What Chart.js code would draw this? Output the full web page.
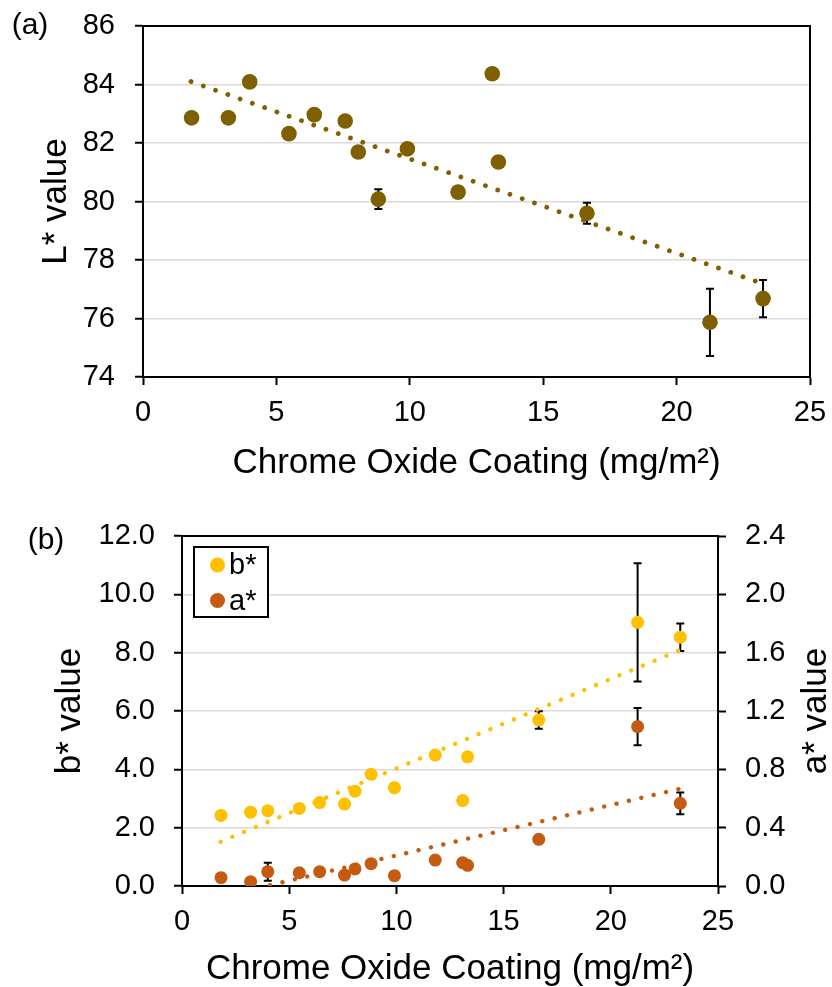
<!DOCTYPE html>
<html>
<head>
<meta charset="utf-8">
<title>Chrome oxide coating colour values</title>
<script src="https://cdn.jsdelivr.net/npm/chart.js@4.4.1/dist/chart.umd.min.js"></script>
<style>
  html, body { margin: 0; padding: 0; background: #fff; }
  canvas { display: block; }
</style>
</head>
<body>
<canvas id="chartL" width="832" height="490"></canvas>
<canvas id="chartAB" width="832" height="497"></canvas>
<script>
// coating weight of each sample (mg/m2)
const coating = [1.82, 3.2, 4.0, 5.47, 6.42, 7.58, 8.07, 8.82, 9.91, 11.81, 13.09, 13.32, 16.64, 21.25, 23.24];

// L* (panel a)
const lValues = [82.86, 82.86, 84.09, 82.32, 82.97, 82.75, 81.69, 80.08, 81.80, 80.32, 84.37, 81.35, 79.60, 75.87, 76.68];
const lErr = [0, 0, 0, 0, 0, 0, 0, 0.34, 0, 0, 0, 0, 0.36, 1.15, 0.64];
const lTrend = [[1.8, 84.1], [23.2, 77.2]];

// b* and a* (panel b)
const bValues = [2.42, 2.53, 2.58, 2.66, 2.86, 2.81, 3.25, 3.83, 3.37, 4.49, 2.93, 4.43, 5.69, 9.04, 8.53];
const bErr = [0, 0, 0, 0, 0, 0, 0, 0, 0, 0, 0, 0, 0.3, 2.03, 0.47];
const bTrend = [[1.8, 1.52], [23.2, 8.08]];

const aValues = [0.057, 0.03, 0.098, 0.091, 0.098, 0.075, 0.117, 0.153, 0.071, 0.178, 0.16, 0.142, 0.32, 1.093, 0.567];
const aErr = [0, 0, 0.062, 0, 0, 0, 0, 0, 0, 0, 0, 0, 0, 0.128, 0.075];
const aTrend = [[1.8, -0.074], [23.2, 0.666]];

const xTitle = 'Chrome Oxide Coating (mg/m\u00B2)';

const OLIVE = '#7F6000';
const GOLD = '#FFC000';
const RUST = '#C55A11';
const GRID = '#D9D9D9';

Chart.defaults.font.family = 'Arial, "Liberation Sans", sans-serif';
Chart.defaults.color = '#000';

const toPoints = (xs, ys) => xs.map((x, i) => ({ x: x, y: ys[i] }));
const toLine = pairs => pairs.map(p => ({ x: p[0], y: p[1] }));

// vertical error bars with small caps, drawn under the markers
const errorBarPlugin = {
  id: 'errorBars',
  beforeDatasetsDraw(chart) {
    const ctx = chart.ctx;
    chart.data.datasets.forEach((ds, i) => {
      if (!ds.errorBars) return;
      const meta = chart.getDatasetMeta(i);
      const yScale = chart.scales[meta.yAxisID];
      ctx.save();
      ctx.strokeStyle = '#000';
      ctx.lineWidth = 2;
      meta.data.forEach((pt, j) => {
        const err = ds.errorBars[j];
        if (!err) return;
        const v = ds.data[j].y;
        const yTop = yScale.getPixelForValue(v + err);
        const yBot = yScale.getPixelForValue(v - err);
        ctx.beginPath();
        ctx.moveTo(pt.x, yTop);
        ctx.lineTo(pt.x, yBot);
        ctx.moveTo(pt.x - 4, yTop);
        ctx.lineTo(pt.x + 4, yTop);
        ctx.moveTo(pt.x - 4, yBot);
        ctx.lineTo(pt.x + 4, yBot);
        ctx.stroke();
      });
      ctx.restore();
    });
  }
};

// closes the plot box along the top (and the right side when asked)
const framePlugin = {
  id: 'frame',
  afterDraw(chart, args, opts) {
    const { ctx, chartArea: a } = chart;
    ctx.save();
    ctx.strokeStyle = '#000';
    ctx.lineWidth = 2;
    ctx.beginPath();
    ctx.moveTo(a.left - 1, a.top);
    ctx.lineTo(a.right, a.top);
    if (opts.right) ctx.lineTo(a.right, a.bottom);
    ctx.stroke();
    ctx.restore();
  }
};

// "(a)" / "(b)" panel tags and any extra rotated axis title
const labelPlugin = {
  id: 'panelText',
  afterDraw(chart, args, opts) {
    const ctx = chart.ctx;
    ctx.save();
    ctx.fillStyle = '#000';
    ctx.textAlign = 'center';
    ctx.textBaseline = 'middle';
    ctx.font = '30px Arial, "Liberation Sans", sans-serif';
    ctx.fillText(opts.tag, opts.tagX, opts.tagY);
    if (opts.sideTitle) {
      const a = chart.chartArea;
      ctx.font = '35px Arial, "Liberation Sans", sans-serif';
      ctx.translate(opts.sideX, (a.top + a.bottom) / 2);
      ctx.rotate(-Math.PI / 2);
      ctx.fillText(opts.sideTitle, 0, 0);
    }
    ctx.restore();
  }
};

// boxed legend in the top-left corner of the plot
const boxLegendPlugin = {
  id: 'boxLegend',
  afterDraw(chart, args, opts) {
    if (!opts.items) return;
    const { ctx, chartArea: a } = chart;
    const left = a.left + 12, top = a.top + 11;
    ctx.save();
    ctx.fillStyle = '#fff';
    ctx.fillRect(left, top, 74, 70);
    ctx.strokeStyle = '#000';
    ctx.lineWidth = 2;
    ctx.strokeRect(left, top, 74, 70);
    ctx.font = '29px Arial, "Liberation Sans", sans-serif';
    ctx.textBaseline = 'middle';
    ctx.textAlign = 'left';
    opts.items.forEach((idx, row) => {
      const ds = chart.data.datasets[idx];
      const cy = top + 18 + row * 35.5;
      ctx.fillStyle = ds.backgroundColor;
      ctx.beginPath();
      ctx.arc(left + 23.5, cy, 7.5, 0, Math.PI * 2);
      ctx.fill();
      ctx.fillStyle = '#000';
      ctx.fillText(ds.label, left + 35, cy + 1);
    });
    ctx.restore();
  }
};

const tickFont = { size: 29 };
const titleFont = { size: 35, lineHeight: 1 };

// tick padding would otherwise be added to the overflow Chart.js reserves
// around the plot, so the side paddings are reset after each fit
function xAxis(height, titlePad) {
  return {
    type: 'linear',
    min: 0,
    max: 25,
    ticks: { stepSize: 5, font: tickFont, padding: 11 },
    grid: { drawOnChartArea: false, tickLength: 8, tickColor: '#000', tickWidth: 2 },
    border: { color: '#000', width: 2 },
    title: { display: true, text: xTitle, font: titleFont, padding: { top: 0, bottom: titlePad } },
    afterFit: s => {
      s.height = height;
      s.paddingLeft = 10;
      s.paddingRight = 10;
    }
  };
}

function fixWidth(width) {
  return s => {
    s.width = width;
    s.paddingTop = 10;
    s.paddingBottom = 10;
  };
}

// panel (a): L*
new Chart(document.getElementById('chartL'), {
  type: 'scatter',
  data: {
    datasets: [
      {
        label: 'L*',
        data: toPoints(coating, lValues),
        errorBars: lErr,
        backgroundColor: OLIVE,
        borderWidth: 0,
        pointRadius: 7.8,
        pointHoverRadius: 7.8
      },
      {
        label: 'L* trend',
        data: toLine(lTrend),
        showLine: true,
        pointRadius: 0,
        borderColor: OLIVE,
        borderWidth: 4.8,
        borderCapStyle: 'round',
        borderDash: [0.01, 13]
      }
    ]
  },
  options: {
    responsive: false,
    animation: false,
    layout: { autoPadding: false, padding: { top: 26, right: 22, bottom: 0, left: 0 } },
    plugins: {
      legend: { display: false },
      tooltip: { enabled: false },
      frame: { right: true },
      panelText: { tag: '(a)', tagX: 30, tagY: 26 },
      boxLegend: {}
    },
    scales: {
      x: xAxis(113, 9),
      y: {
        type: 'linear',
        min: 74,
        max: 86,
        ticks: { stepSize: 2, font: tickFont, padding: 20 },
        grid: { color: GRID, lineWidth: 1.5, tickLength: 8, tickColor: '#000', tickWidth: 2 },
        border: { color: '#000', width: 2 },
        title: { display: true, text: 'L* value', font: titleFont, padding: { top: 39, bottom: 0 } },
        afterFit: fixWidth(143)
      }
    }
  },
  plugins: [errorBarPlugin, framePlugin, labelPlugin, boxLegendPlugin]
});

// panel (b): b* on the left axis, a* on the right axis
new Chart(document.getElementById('chartAB'), {
  type: 'scatter',
  data: {
    datasets: [
      {
        label: 'b*',
        data: toPoints(coating, bValues),
        errorBars: bErr,
        yAxisID: 'y',
        backgroundColor: GOLD,
        borderWidth: 0,
        pointRadius: 6.5,
        pointHoverRadius: 6.5
      },
      {
        label: 'a*',
        data: toPoints(coating, aValues),
        errorBars: aErr,
        yAxisID: 'y1',
        backgroundColor: RUST,
        borderWidth: 0,
        pointRadius: 6.5,
        pointHoverRadius: 6.5
      },
      {
        label: 'b* trend',
        data: toLine(bTrend),
        yAxisID: 'y',
        showLine: true,
        pointRadius: 0,
        borderColor: GOLD,
        borderWidth: 4.4,
        borderCapStyle: 'round',
        borderDash: [0.01, 12.7]
      },
      {
        label: 'a* trend',
        data: toLine(aTrend),
        yAxisID: 'y1',
        showLine: true,
        pointRadius: 0,
        borderColor: RUST,
        borderWidth: 4.4,
        borderCapStyle: 'round',
        borderDash: [0.01, 12.7]
      }
    ]
  },
  options: {
    responsive: false,
    animation: false,
    layout: { autoPadding: false, padding: { top: 46, right: 0, bottom: 0, left: 0 } },
    plugins: {
      legend: { display: false },
      tooltip: { enabled: false },
      frame: { right: false },
      panelText: { tag: '(b)', tagX: 46, tagY: 51, sideTitle: 'a* value', sideX: 816 },
      boxLegend: { items: [0, 1] }
    },
    scales: {
      x: xAxis(101, 0),
      y: {
        type: 'linear',
        position: 'left',
        min: 0,
        max: 12,
        ticks: { stepSize: 2, font: tickFont, padding: 19, callback: v => v.toFixed(1) },
        grid: { color: GRID, lineWidth: 1.5, tickLength: 8, tickColor: '#000', tickWidth: 2 },
        border: { color: '#000', width: 2 },
        title: { display: true, text: 'b* value', font: titleFont, padding: { top: 52.5, bottom: 0 } },
        afterFit: fixWidth(182)
      },
      y1: {
        type: 'linear',
        position: 'right',
        min: 0,
        max: 2.4,
        ticks: { stepSize: 0.4, font: tickFont, padding: 19, callback: v => v.toFixed(1) },
        grid: { drawOnChartArea: false, tickLength: 8, tickColor: '#000', tickWidth: 2 },
        border: { color: '#000', width: 2 },
        afterFit: fixWidth(114)
      }
    }
  },
  plugins: [errorBarPlugin, framePlugin, labelPlugin, boxLegendPlugin]
});
</script>
</body>
</html>
